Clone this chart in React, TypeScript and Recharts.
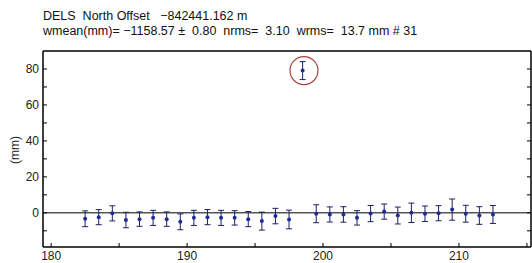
import React from 'react';
import { ScatterChart, Scatter, XAxis, YAxis, ErrorBar, ReferenceLine, ReferenceDot } from 'recharts';

const days = [182.5, 183.5, 184.5, 185.5, 186.5, 187.5, 188.5, 189.5, 190.5, 191.5, 192.5, 193.5, 194.5, 195.5, 196.5, 197.5, 198.5, 199.5, 200.5, 201.5, 202.5, 203.5, 204.5, 205.5, 206.5, 207.5, 208.5, 209.5, 210.5, 211.5, 212.5];
const offsets = [-3.3, -2.4, -0.3, -4.0, -3.5, -2.8, -3.5, -5.0, -2.8, -2.4, -2.8, -2.8, -3.5, -4.6, -1.8, -3.7, 79.1, -0.5, -0.9, -0.9, -2.8, -0.4, 0.7, -1.5, 0.0, -0.5, -0.2, 1.8, -0.5, -1.5, -0.9];
const sigmas = [4.4, 4.2, 4.2, 4.3, 4.0, 4.2, 4.0, 4.4, 4.2, 4.2, 4.2, 4.0, 4.2, 5.0, 4.3, 5.2, 5.0, 5.0, 4.2, 4.3, 4.0, 4.5, 4.2, 4.7, 5.4, 4.3, 4.2, 5.9, 4.7, 4.9, 5.0];
const xTicks = [180, 185, 190, 195, 200, 205, 210, 215];
const xLabelTicks = [180, 190, 200, 210];
const yTicks = [-10, 0, 10, 20, 30, 40, 50, 60, 70, 80];
const yLabelTicks = [0, 20, 40, 60, 80];
const outlierDay = 198.5;
const outlierValue = 79.1;

const titleLine1 = 'DELS  North Offset   \u2212842441.162 m';
const titleLine2 = 'wmean(mm)= \u22121158.57 \u00b1  0.80  nrms=  3.10  wrms=  13.7 mm # 31';

const data = days.map((d, i) => ({ x: d, y: offsets[i], err: sigmas[i] }));

const FONT = '"Liberation Sans", Arial, Helvetica, sans-serif';
const MARGIN = 2;
const TS = 4;

const LeftTick = (props: any) => {
  const { x, y, payload } = props;
  const ax = x + MARGIN + TS;
  const v = payload.value;
  return (
    <g>
      <line x1={ax} x2={ax + TS} y1={y} y2={y} stroke="#000" strokeWidth={1} />
      {yLabelTicks.includes(v) && (
        <text x={ax - 4} y={y + 4.3} textAnchor="end" fontSize={12} fill="#222" fontFamily={FONT}>{v}</text>
      )}
    </g>
  );
};
const RightTick = (props: any) => {
  const { x, y } = props;
  const ax = x - MARGIN - TS;
  return <line x1={ax} x2={ax - TS} y1={y} y2={y} stroke="#000" strokeWidth={1} />;
};
const BottomTick = (props: any) => {
  const { x, y, payload } = props;
  const ay = y - MARGIN - TS;
  const v = payload.value;
  return (
    <g>
      <line x1={x} x2={x} y1={ay} y2={ay - TS} stroke="#000" strokeWidth={1} />
      {xLabelTicks.includes(v) && (
        <text x={x} y={ay + 13} textAnchor="middle" fontSize={12} fill="#222" fontFamily={FONT}>{v}</text>
      )}
    </g>
  );
};
const TopTick = (props: any) => {
  const { x, y } = props;
  const ay = y + MARGIN + TS;
  return <line x1={x} x2={x} y1={ay} y2={ay + TS} stroke="#000" strokeWidth={1} />;
};

const Dot = (props: any) => <circle cx={props.cx} cy={props.cy} r={2} fill="#1b2a9c" />;

export default function App() {
  return (
    <div style={{ position: 'absolute', left: 0, top: 0, width: 532, height: 263, background: '#fff', fontFamily: FONT }}>
      <div style={{ position: 'absolute', left: 43, top: 9, fontSize: 12.5, whiteSpace: 'pre', color: '#111', lineHeight: '15px' }}>{titleLine1}</div>
      <div style={{ position: 'absolute', left: 43, top: 24, fontSize: 12.5, whiteSpace: 'pre', color: '#111', lineHeight: '15px' }}>{titleLine2}</div>
      <div style={{ position: 'absolute', left: 15, top: 150, transform: 'translate(-50%, -50%) rotate(-90deg)', fontSize: 12, color: '#222', whiteSpace: 'pre' }}>(mm)</div>
      <ScatterChart width={532} height={263} margin={{ top: 50, right: 0, bottom: 0, left: 0 }} style={{ position: 'absolute', left: 0, top: 0 }}>
        <XAxis xAxisId="b" dataKey="x" type="number" domain={[179.4, 215.3]} ticks={xTicks} allowDataOverflow orientation="bottom" height={16} tickSize={TS} tickLine={false} tickMargin={MARGIN} tick={<BottomTick />} axisLine={{ stroke: '#000', strokeWidth: 1.5 }} interval={0} />
        <XAxis xAxisId="t" type="number" domain={[179.4, 215.3]} ticks={xTicks} allowDataOverflow orientation="top" height={1} tickSize={TS} tickLine={false} tickMargin={MARGIN} tick={<TopTick />} axisLine={{ stroke: '#000', strokeWidth: 1.5 }} interval={0} />
        <YAxis yAxisId="l" dataKey="y" type="number" domain={[-19, 90]} ticks={yTicks} allowDataOverflow orientation="left" width={43} tickSize={TS} tickLine={false} tickMargin={MARGIN} tick={<LeftTick />} axisLine={{ stroke: '#000', strokeWidth: 1.5 }} interval={0} />
        <YAxis yAxisId="r" type="number" domain={[-19, 90]} ticks={yTicks} allowDataOverflow orientation="right" width={1} tickSize={TS} tickLine={false} tickMargin={MARGIN} tick={<RightTick />} axisLine={{ stroke: '#000', strokeWidth: 1.5 }} interval={0} />
        <ReferenceLine xAxisId="b" yAxisId="l" y={0} stroke="#000" strokeWidth={1} />
        <Scatter xAxisId="b" yAxisId="l" data={data} shape={<Dot />} isAnimationActive={false}>
          <ErrorBar dataKey="err" direction="y" width={3} stroke="#1c2060" strokeWidth={1} />
        </Scatter>
        <ReferenceDot xAxisId="b" yAxisId="l" x={outlierDay + 0.1} y={outlierValue} r={14} fill="none" stroke="#a8403c" strokeWidth={1.2} />
      </ScatterChart>
    </div>
  );
}
